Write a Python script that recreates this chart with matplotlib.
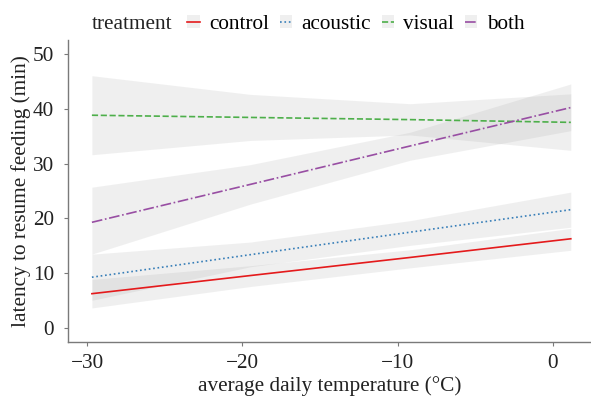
import matplotlib

matplotlib.use("Agg")
import matplotlib.pyplot as plt
from matplotlib.lines import Line2D
from matplotlib.patches import Patch

plt.rcParams["font.family"] = ["Liberation Serif", "DejaVu Serif"]

# ---- data ----
treatments = ["control", "acoustic", "visual", "both"]
colors = ["#E41A1C", "#377EB8", "#4DAF4A", "#984EA3"]
styles = ["-", ":", "--", "-."]

temp = [-29.7, -19.5, -9.2, 1.15]

control_fit = [6.3, 9.6, 12.9, 16.3]
control_lo = [3.7, 7.6, 11.0, 14.2]
control_hi = [8.9, 11.4, 14.3, 18.2]

acoustic_fit = [9.3, 13.4, 17.5, 21.6]
acoustic_lo = [5.1, 11.2, 15.1, 18.4]
acoustic_hi = [13.5, 15.7, 19.6, 24.8]

visual_fit = [38.8, 38.4, 38.0, 37.5]
visual_lo = [31.6, 34.2, 35.2, 32.4]
visual_hi = [46.0, 42.6, 40.9, 42.7]

both_fit = [19.3, 26.2, 33.2, 40.2]
both_lo = [13.5, 22.6, 30.6, 36.0]
both_hi = [25.7, 29.8, 35.7, 44.5]

x_ticks = [-30, -20, -10, 0]
x_tick_labels = ["\u221230", "\u221220", "\u221210", "0"]
y_ticks = [0, 10, 20, 30, 40, 50]


def main() -> None:
    fits = [control_fit, acoustic_fit, visual_fit, both_fit]
    los = [control_lo, acoustic_lo, visual_lo, both_lo]
    his = [control_hi, acoustic_hi, visual_hi, both_hi]

    fs = 15.3
    text_color = "#222222"

    fig = plt.figure(figsize=(5.91, 4.0), dpi=100)
    ax = fig.add_axes([68 / 591, 58 / 400, 523 / 591, 302 / 400])

    band_color = "#999999"
    band_alpha = 0.15
    for lo, hi in zip(los, his):
        ax.fill_between(temp, lo, hi, color=band_color, alpha=band_alpha, lw=0)
    for fit, c, ls in zip(fits, colors, styles):
        ax.plot(temp, fit, color=c, ls=ls, lw=1.2)

    ax.set_xlim(-31.24, 2.45)
    ax.set_ylim(-2.5, 52.5)
    ax.set_xticks(x_ticks)
    ax.set_xticklabels(x_tick_labels)
    ax.set_yticks(y_ticks)

    spine_color = "#7a7a7a"
    for side in ["top", "right"]:
        ax.spines[side].set_visible(False)
    for side in ["left", "bottom"]:
        ax.spines[side].set_color(spine_color)
        ax.spines[side].set_linewidth(1.0)
    ax.tick_params(colors=spine_color, labelcolor=text_color, labelsize=fs,
                   length=3, width=0.8)
    ax.tick_params(axis="x", pad=6)
    ax.tick_params(axis="y", pad=7)

    ax.set_xlabel("average daily temperature (\u00b0C)", fontsize=fs,
                  color=text_color, labelpad=2)
    ax.set_ylabel("latency to resume feeding (min)", fontsize=fs,
                  color=text_color, labelpad=1)

    # legend along the top
    handles = []
    for c, ls in zip(colors, styles):
        key_box = Patch(facecolor=band_color, alpha=band_alpha, lw=0)
        key_line = Line2D([], [], color=c, ls=ls, lw=1.2)
        handles.append((key_box, key_line))
    fig.text(92 / 591, 0.939, "treatment", fontsize=fs, color=text_color,
             va="center", ha="left")
    fig.legend(handles, treatments, loc="center left",
               bbox_to_anchor=(187 / 591, 0.939), ncol=4, frameon=False,
               fontsize=fs, handlelength=0.59, handleheight=0.6,
               handletextpad=0.44, columnspacing=0.5, borderpad=0,
               borderaxespad=0)

    fig.savefig("out.png", dpi=100)


if __name__ == "__main__":
    main()
